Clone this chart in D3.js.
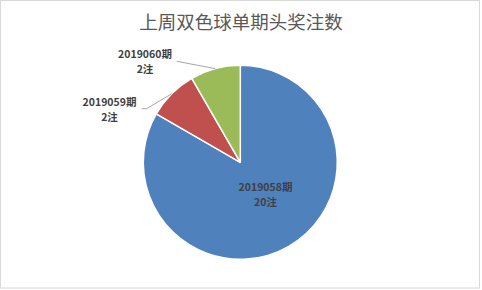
<!DOCTYPE html>
<html><head><meta charset="utf-8">
<script src="https://cdn.jsdelivr.net/npm/d3@7"></script>
<style>body{margin:0;background:#fff}svg{display:block}</style>
</head><body>
<svg id="c" width="482" height="290"></svg>
<script>
const title = "上周双色球单期头奖注数";
const periods = ["2019058期", "2019059期", "2019060期"];
const counts = [20, 2, 2];
const unit = "注";
const colors = ["#4F81BD", "#C0504D", "#9BBB59"];

const svg = d3.select("#c");
const W = 482, H = 290;
svg.append("rect").attr("x", 0.5).attr("y", 0.5).attr("width", W - 3).attr("height", H - 2.5)
  .attr("fill", "#fff").attr("stroke", "#d9d9d9").attr("stroke-width", 1);

svg.append("text").attr("x", 241).attr("y", 29).attr("text-anchor", "middle")
  .attr("font-family", "'Noto Sans CJK SC', sans-serif").attr("font-size", 18.5)
  .attr("fill", "#595959").text(title);

const cx = 240.3, cy = 162.3, r = 97;
const g = svg.append("g").attr("transform", `translate(${cx},${cy})`);
const pie = d3.pie().sort(null).value(d => d)(counts);
const arc = d3.arc().innerRadius(0).outerRadius(r);
g.selectAll("path").data(pie).join("path")
  .attr("d", arc).attr("fill", (d, i) => colors[i])
  .attr("stroke", "#fff").attr("stroke-width", 1.5).attr("stroke-linejoin", "round");

const font = "'Noto Sans CJK SC', sans-serif";
// label placements relative to centre (x, baseline of first line), and leader paths
const labelPos = [
  {x: 25.2, y: 28.6, leader: null},
  {x: -130.8, y: -56.3, leader: [[-93.6, -53.6], [-98.6, -53.6]]},
  {x: -95.3, y: -104, leader: [[-63.6, -101]]}
];
pie.forEach((d, i) => {
  const p = labelPos[i];
  if (p.leader) {
    const mid = (d.startAngle + d.endAngle) / 2;
    const start = [Math.sin(mid) * r, -Math.cos(mid) * r];
    g.append("path").attr("d", d3.line()([start, ...p.leader]))
      .attr("fill", "none").attr("stroke", "#a6a6a6").attr("stroke-width", 1);
  }
  const lines = [periods[i], counts[i] + unit];
  lines.forEach((s, k) => {
    g.append("text").attr("text-anchor", "middle").attr("font-family", font)
      .attr("font-size", 10.5).attr("font-weight", "bold").attr("fill", "#404040")
      .attr("x", p.x).attr("y", p.y + k * 15).text(s);
  });
});
</script>
</body></html>
